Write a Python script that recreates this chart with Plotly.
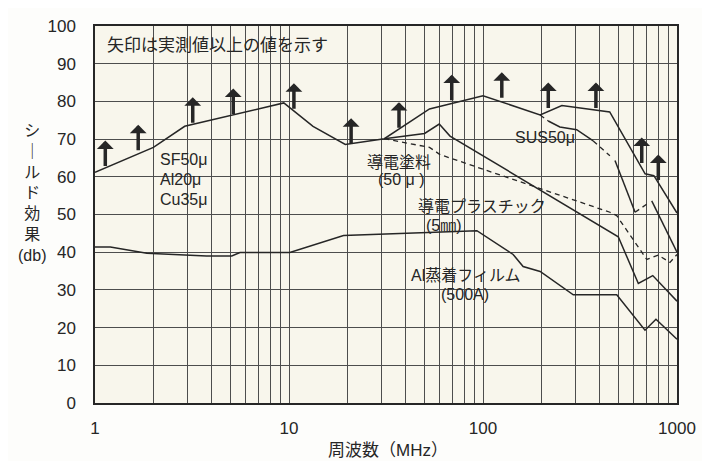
"""
Shielding effectiveness vs. frequency for several shield materials.
"""

import numpy as np
import plotly.graph_objects as go

# --- data -----------------------------------------------------------------
# SF50μ / Al20μ / Cu35μ laminate
sf_x = [1, 2.0, 2.9, 9.4, 13.3, 19.5, 31, 53, 100, 197, 255, 450, 685, 760, 1000]
sf_y = [61.2, 67.8, 73.4, 79.6, 73.4, 68.6, 70.1, 78.0, 81.5, 76.4, 78.9, 77.2, 60.8, 60.3, 50.4]

# SUS50μ (solid and dashed pieces, None = break)
sus_solid_x = [217, 249, 304, 370, None, 479, 608, None, 741, 1000]
sus_solid_y = [74.8, 73.2, 72.5, 69.5, None, 64.3, 50.6, None, 53.6, 40.0]
sus_dash_x = [197, 217, None, 370, 451, None, 608, 720]
sus_dash_y = [76.4, 74.8, None, 69.5, 65.6, None, 50.6, 53.2]

# 導電塗料 (50μ)
paint_x = [31, 53, 60, 132, 451, 489, 698, 800, 920, 1000]
paint_y = [70.1, 67.8, 65.9, 60.0, 50.6, 49.7, 38.1, 39.2, 37.3, 39.4]

# 導電プラスチック (5mm)
plastic_x = [31, 50, 59.5, 67.6, 498, 632, 750, 1000]
plastic_y = [70.1, 71.5, 74.0, 70.8, 44.1, 31.7, 33.8, 27.0]

# Al蒸着フィルム (500A)
film_x = [1, 1.2, 1.85, 3.76, 5.07, 5.59, 10.1, 19.1, 93, 143, 161, 197, 292, 489, 684, 779, 1000]
film_y = [41.4, 41.4, 39.7, 39.0, 39.0, 39.9, 39.9, 44.4, 45.7, 39.4, 36.2, 34.9, 28.7, 28.7, 19.3, 22.2, 16.9]

# arrows: measured value is at least this much
arrow_x = [1.13, 1.67, 3.19, 5.16, 10.6, 20.9, 36.9, 69, 125, 217, 382, 658, 801]
arrow_tip = [69.6, 73.8, 81.1, 83.4, 84.8, 75.5, 79.8, 87.1, 87.7, 85.0, 85.0, 70.4, 65.9]

decades = [1, 10, 100, 1000]
grid_x = [m * d for d in [1, 10, 100] for m in range(1, 10)] + [1000]

INK = "#262626"
FONT = "Liberation Sans, Noto Sans CJK JP, sans-serif"

fig = go.Figure()

line = dict(color=INK, width=1.5)
for xs, ys in [(sf_x, sf_y), (sus_solid_x, sus_solid_y), (plastic_x, plastic_y), (film_x, film_y)]:
    fig.add_trace(go.Scatter(x=xs, y=ys, mode="lines", line=line, showlegend=False))

dash = dict(color=INK, width=1.3, dash="5px,4px")
for xs, ys in [(sus_dash_x, sus_dash_y), (paint_x, paint_y)]:
    fig.add_trace(go.Scatter(x=xs, y=ys, mode="lines", line=dash, showlegend=False))

# up arrows (annotation x on a log axis is given as log10)
for xa, ya in zip(arrow_x, arrow_tip):
    fig.add_annotation(
        x=np.log10(xa), y=ya, ax=0, ay=27, text="",
        showarrow=True, arrowhead=1, arrowwidth=3.5, arrowsize=0.8,
        arrowcolor=INK,
    )

labels = [
    ("SF50μ", 2.11, 64.7, "left", 16),
    ("Al20μ", 2.11, 59.3, "left", 16),
    ("Cu35μ", 2.11, 54.1, "left", 16),
    ("導電塗料", 36.8, 63.9, "center", 16),
    ("(50 μ )", 38.0, 59.4, "center", 16),
    ("SUS50μ", 209, 70.4, "center", 16),
    ("導電プラスチック", 98.5, 52.3, "center", 16),
    ("(5㎜)", 63.0, 47.2, "center", 16),
    ("Al蒸着フィルム", 81.7, 33.8, "center", 16),
    ("(500A)", 80.7, 28.7, "center", 16),
]
for text, lx, ly, anchor, size in labels:
    fig.add_annotation(
        x=np.log10(lx), y=ly,
        text=text, showarrow=False, xanchor=anchor, yanchor="middle",
        font=dict(family=FONT, size=size, color=INK),
    )

fig.add_annotation(
    xref="paper", x=0.017, y=94.8,
    text="矢印は実測値以上の値を示す", showarrow=False,
    xanchor="left", yanchor="middle",
    font=dict(family=FONT, size=17, color=INK),
)

# axis titles
fig.add_annotation(
    xref="paper", yref="paper", x=-0.108, y=0.557,
    text="シ<br>｜<br>ル<br>ド<br>効<br>果<br>(db)", showarrow=False,
    xanchor="center", yanchor="middle",
    font=dict(family=FONT, size=16, color=INK),
)
fig.add_annotation(
    xref="paper", yref="paper", x=0.503, y=-0.127,
    text="周波数（MHz）", showarrow=False, xanchor="center", yanchor="middle",
    font=dict(family=FONT, size=17, color=INK),
)

fig.update_xaxes(
    type="log", range=[0, 3],
    tickvals=grid_x,
    ticktext=[str(v) if v in decades else "" for v in grid_x],
    showgrid=True, gridcolor="#4d4d4d", gridwidth=1,
    showline=True, mirror=True, linecolor=INK, linewidth=1.5,
    ticks="", ticklabelstandoff=9,
    tickfont=dict(family=FONT, size=17, color=INK),
    zeroline=False,
)
fig.update_yaxes(
    range=[0, 100], dtick=10,
    showgrid=True, gridcolor="#4d4d4d", gridwidth=1,
    showline=True, mirror=True, linecolor=INK, linewidth=1.5,
    ticks="", ticklabelstandoff=14,
    tickfont=dict(family=FONT, size=17, color=INK),
    zeroline=False,
)

# the page body adds an 8px margin, so the figure is 8px smaller each way
fig.update_layout(
    width=702, height=453,
    margin=dict(l=87, r=33, t=9, b=58),
    paper_bgcolor="#fdfdfb",
    plot_bgcolor="#f8f6ec",
    showlegend=False,
)

fig.write_html("out.html")
